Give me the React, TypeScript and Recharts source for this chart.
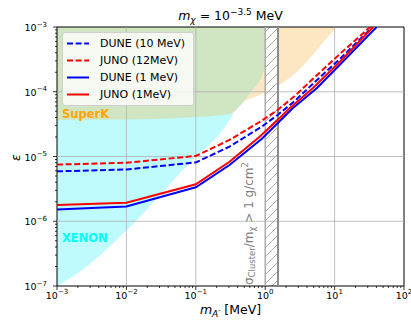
import React from 'react';
import {
  ComposedChart,
  Line,
  Area,
  XAxis,
  YAxis,
  ReferenceLine,
  ReferenceArea,
  ReferenceDot,
  Legend,
} from 'recharts';

// ---------- axis ticks ----------
const massMajorTicks = [0.001, 0.01, 0.1, 1, 10, 100];
const massTickExponents = ['−3', '−2', '−1', '0', '1', '2'];
const epsMajorTicks = [1e-7, 1e-6, 1e-5, 1e-4, 1e-3];
const epsTickExponents = ['−7', '−6', '−5', '−4', '−3'];
const minorMultipliers = [2, 3, 4, 5, 6, 7, 8, 9];
const massGrid = [0.01, 0.1, 1, 10];
const epsGrid = [1e-6, 1e-5, 1e-4];

// ---------- sensitivity curves ----------
const massDune10 = [0.001, 0.01, 0.1, 0.306, 0.887, 1.51, 2.66, 4.84, 11.9, 35.1];
const epsDune10 = [5.9e-6, 6.3e-6, 8.1e-6, 1.42e-5, 2.88e-5, 4.38e-5, 7.19e-5, 1.32e-4, 3.21e-4, 1e-3];
const massJuno12 = [0.001, 0.01, 0.1, 0.306, 0.83, 1.51, 2.66, 4.84, 11.9, 32.3];
const epsJuno12 = [7.5e-6, 8.0e-6, 1.02e-5, 1.8e-5, 3.41e-5, 5.22e-5, 8.59e-5, 1.57e-4, 3.83e-4, 1e-3];
const massDune1 = [0.001, 0.01, 0.1, 0.306, 0.887, 1.51, 2.49, 5.53, 13.1, 40.3];
const epsDune1 = [1.52e-6, 1.69e-6, 3.34e-6, 7.4e-6, 1.86e-5, 3.26e-5, 5.55e-5, 1.13e-4, 2.91e-4, 1e-3];
const massJuno1 = [0.001, 0.01, 0.1, 0.306, 0.83, 1.51, 2.25, 4.84, 11.9, 36.0];
const epsJuno1 = [1.79e-6, 1.93e-6, 3.72e-6, 8.3e-6, 2.02e-5, 3.66e-5, 5.55e-5, 1.13e-4, 2.91e-4, 1e-3];

const seriesNames = ['DUNE (10 MeV)', 'JUNO (12MeV)', 'DUNE (1 MeV)', 'JUNO (1MeV)'];
const seriesColors = ['#0000ff', '#ff0000', '#0000ff', '#ff0000'];
const seriesDashed = [true, true, false, false];

// ---------- excluded regions ----------
const xenonMass = [0.001, 0.0023, 0.0098, 0.0757, 0.306, 0.338];
const xenonLow = [1e-7, 1.77e-7, 7.07e-7, 7.4e-6, 3.66e-5, 4.38e-5];
const xenonTop = 1e-4;
const superKMass = [0.306, 0.361, 0.83, 1.61, 2.84, 4.84, 7.71, 10.8];
const superKLow = [4.6e-5, 5.61e-5, 8.91e-5, 1.27e-4, 2.02e-4, 3.7e-4, 6.76e-4, 1e-3];
const greenMass = [0.001, 0.01, 0.1, 0.306, 0.471, 0.657, 0.887, 1.16, 1.51];
const greenLow = [3.66e-5, 3.73e-5, 4.07e-5, 4.53e-5, 6.71e-5, 1.06e-4, 1.69e-4, 4.41e-4, 1e-3];
const regionTop = 1e-3;

const clusterBand = [1.0, 1.53];

const FONT = 'DejaVu Sans';

const zip = (ms: number[], es: number[]) => ms.map((m, i) => ({ m, eps: es[i] }));
const seriesData = [
  zip(massDune10, epsDune10),
  zip(massJuno12, epsJuno12),
  zip(massDune1, epsDune1),
  zip(massJuno1, epsJuno1),
];
const rangeData = (ms: number[], lows: number[], top: number) =>
  ms.map((m, i) => ({ m, range: [lows[i], top] }));
const xenonData = rangeData(xenonMass, xenonLow, xenonTop);
const superKData = rangeData(superKMass, superKLow, regionTop);
const greenData = rangeData(greenMass, greenLow, regionTop);

const massMinor = massMajorTicks.slice(0, -1).flatMap((d) => minorMultipliers.map((k) => k * d));
const epsMinor = epsMajorTicks.slice(0, -1).flatMap((d) => minorMultipliers.map((k) => k * d));
const massTicks = [...massMajorTicks, ...massMinor].sort((a, b) => a - b);
const epsTicks = [...epsMajorTicks, ...epsMinor].sort((a, b) => a - b);

const majorIndex = (list: number[], v: number) =>
  list.findIndex((t) => Math.abs(Math.log10(t) - Math.log10(v)) < 1e-6);

const XTick = (props: any) => {
  const { x, y, payload } = props;
  const idx = majorIndex(massMajorTicks, payload.value);
  const major = idx >= 0;
  return (
    <g>
      <line x1={x} x2={x} y1={y} y2={y + (major ? 4 : 2)} stroke="#000" strokeWidth={0.8} />
      {major && (
        <text x={x} y={y + 12.5} textAnchor="middle" fontSize={9.5} fontFamily={FONT} fill="#000">
          <tspan>10</tspan>
          <tspan dy={-4.5} fontSize={7}>
            {massTickExponents[idx]}
          </tspan>
        </text>
      )}
    </g>
  );
};

const YTick = (props: any) => {
  const { x, y, payload } = props;
  const idx = majorIndex(epsMajorTicks, payload.value);
  const major = idx >= 0;
  return (
    <g>
      <line x1={x - (major ? 4 : 2)} x2={x} y1={y} y2={y} stroke="#000" strokeWidth={0.8} />
      {major && (
        <text x={x - 10} y={y + 4} textAnchor="end" fontSize={9.5} fontFamily={FONT} fill="#000">
          <tspan>10</tspan>
          <tspan dy={-4.5} fontSize={7}>
            {epsTickExponents[idx]}
          </tspan>
        </text>
      )}
    </g>
  );
};

const LegendBox = () => (
  <div
    style={{
      background: 'rgba(255,255,255,0.8)',
      border: '1px solid #d0d0d0',
      borderRadius: 3,
      padding: '2px 8px 2px 4px',
      fontFamily: FONT,
      fontSize: 11,
      color: '#000',
    }}
  >
    {seriesNames.map((name, i) => (
      <div key={name} style={{ display: 'flex', alignItems: 'center', height: 17 }}>
        <svg width={22} height={17} style={{ display: 'block' }}>
          <line
            x1={0}
            x2={22}
            y1={8.5}
            y2={8.5}
            stroke={seriesColors[i]}
            strokeWidth={2}
            strokeDasharray={seriesDashed[i] ? '6 2.6' : undefined}
          />
        </svg>
        <span style={{ marginLeft: 11, whiteSpace: 'nowrap' }}>{name}</span>
      </div>
    ))}
  </div>
);

const TitleLabel = (props: any) => {
  const vb = props.viewBox;
  return (
    <text x={vb.x + vb.width / 2} y={vb.y - 7} textAnchor="middle" fontSize={12.5} fontFamily={FONT} fill="#000">
      <tspan fontStyle="italic">m</tspan>
      <tspan fontStyle="italic" fontSize={9} dy={3}>
        χ
      </tspan>
      <tspan dy={-3}> = 10</tspan>
      <tspan fontSize={9} dy={-5}>
        −3.5
      </tspan>
      <tspan dy={5}> MeV</tspan>
    </text>
  );
};

const XLabel = (props: any) => {
  const vb = props.viewBox;
  return (
    <text x={vb.x + vb.width / 2} y={vb.y + 28} textAnchor="middle" fontSize={12.5} fontFamily={FONT} fill="#000">
      <tspan fontStyle="italic">m</tspan>
      <tspan fontStyle="italic" fontSize={9} dy={3}>
        A′
      </tspan>
      <tspan dy={-3}> [MeV]</tspan>
    </text>
  );
};

const YLabel = (props: any) => {
  const vb = props.viewBox;
  const cx = 20;
  const cy = vb.y + vb.height / 2 + 1;
  return (
    <text
      x={cx}
      y={cy}
      textAnchor="middle"
      fontSize={12.5}
      fontStyle="italic"
      fontFamily={FONT}
      fill="#000"
      transform={`rotate(-90, ${cx}, ${cy})`}
    >
      ε
    </text>
  );
};

const BandText = (props: any) => {
  const vb = props.viewBox;
  const bx = vb.x - 12.5;
  const by = vb.y + vb.height - 1;
  return (
    <text
      x={bx}
      y={by}
      fontSize={12}
      fontFamily={FONT}
      fill="#808080"
      transform={`rotate(-90, ${bx}, ${by})`}
    >
      <tspan>σ</tspan>
      <tspan fontSize={8.5} dy={2.5}>
        Cluster
      </tspan>
      <tspan dy={-2.5}>/m</tspan>
      <tspan fontSize={8.5} dy={2.5}>
        χ
      </tspan>
      <tspan dy={-2.5}> {'>'} 1 g/cm</tspan>
      <tspan fontSize={8.5} dy={-5}>
        2
      </tspan>
    </text>
  );
};

const RegionLabel = (text: string, color: string) => (props: any) => {
  const vb = props.viewBox;
  return (
    <text x={vb.x} y={vb.y} fontSize={11.5} fontWeight="bold" fontFamily={FONT} fill={color}>
      {text}
    </text>
  );
};

export default function App() {
  return (
    <div style={{ position: 'absolute', left: 0, top: 0, background: '#fff' }}>
      <ComposedChart width={411} height={320} margin={{ top: 27, right: 7, left: 0, bottom: 0 }}>
        <defs>
          <pattern id="hatch" patternUnits="userSpaceOnUse" width={9} height={9}>
            <rect x={0} y={0} width={9} height={9} fill="#fff" />
            <path d="M-1,1 L1,-1 M0,9 L9,0 M8,10 L10,8" stroke="#8a8a8a" strokeWidth={0.7} />
          </pattern>
        </defs>
        <XAxis
          dataKey="m"
          type="number"
          scale="log"
          domain={[0.001, 100]}
          allowDataOverflow
          ticks={massTicks}
          interval={0}
          tick={XTick}
          tickLine={false}
          tickSize={0}
          tickMargin={0}
          axisLine={false}
          height={34}
          label={XLabel}
        />
        <YAxis
          type="number"
          scale="log"
          domain={[1e-7, 1e-3]}
          allowDataOverflow
          ticks={epsTicks}
          interval={0}
          tick={YTick}
          tickLine={false}
          tickSize={0}
          tickMargin={0}
          axisLine={false}
          width={57}
          label={YLabel}
        />
        <Area
          data={xenonData}
          dataKey="range"
          type="monotone"
          stroke="none"
          fill="#bffafc"
          fillOpacity={1}
          isAnimationActive={false}
          legendType="none"
        />
        <Area
          data={superKData}
          dataKey="range"
          type="monotone"
          stroke="none"
          fill="#fde6c2"
          fillOpacity={1}
          isAnimationActive={false}
          legendType="none"
        />
        <Area
          data={greenData}
          dataKey="range"
          type="monotone"
          stroke="none"
          fill="#d0e6c3"
          fillOpacity={1}
          isAnimationActive={false}
          legendType="none"
        />
        <ReferenceArea
          x1={clusterBand[0]}
          x2={clusterBand[1]}
          y1={1e-7}
          y2={1e-3}
          fill="url(#hatch)"
          fillOpacity={1}
          stroke="none"
        />
        {massGrid.map((v) => (
          <ReferenceLine key={'gx' + v} x={v} stroke="#b0b0b0" strokeWidth={0.8} />
        ))}
        {epsGrid.map((v) => (
          <ReferenceLine key={'gy' + v} y={v} stroke="#b0b0b0" strokeWidth={0.8} />
        ))}
        <ReferenceLine x={clusterBand[0]} stroke="#a0a0a0" strokeWidth={1} label={BandText} />
        <ReferenceLine x={clusterBand[1]} stroke="#8c8c8c" strokeWidth={2} />
        <ReferenceLine y={1e-3} stroke="none" label={TitleLabel} />
        <ReferenceDot x={0.00118} y={4.0e-5} r={0} fill="none" stroke="none" label={RegionLabel('SuperK', '#ffa500')} />
        <ReferenceDot x={0.00118} y={4.8e-7} r={0} fill="none" stroke="none" label={RegionLabel('XENON', '#00ffff')} />
        {seriesData.map((d, i) => (
          <Line
            key={seriesNames[i]}
            data={d}
            dataKey="eps"
            name={seriesNames[i]}
            type="linear"
            stroke={seriesColors[i]}
            strokeWidth={2}
            strokeDasharray={seriesDashed[i] ? '6 2.6' : undefined}
            dot={false}
            isAnimationActive={false}
          />
        ))}
        <ReferenceArea
          x1={0.001}
          x2={100}
          y1={1e-7}
          y2={1e-3}
          fill="none"
          stroke="#000"
          strokeWidth={1}
        />
        <Legend
          layout="horizontal"
          verticalAlign="middle"
          align="center"
          content={LegendBox}
          wrapperStyle={{ left: 62, top: 32, width: 'auto', right: 'auto', bottom: 'auto' }}
        />
      </ComposedChart>
    </div>
  );
}
